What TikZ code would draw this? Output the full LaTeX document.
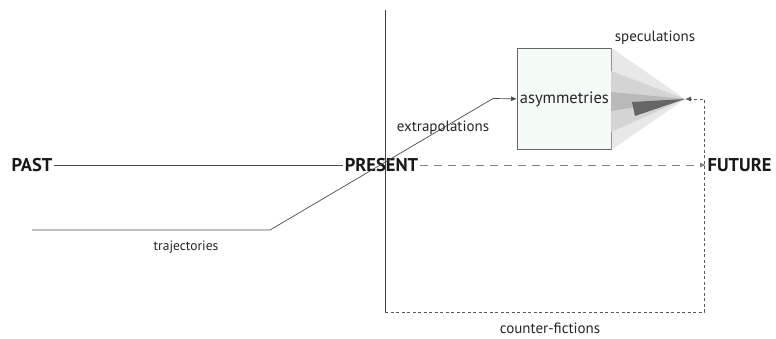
\documentclass[tikz,border=0pt]{standalone}
\usepackage{fontspec}
\setmainfont{PT Sans}
\usetikzlibrary{arrows.meta}
\begin{document}
\begin{tikzpicture}[x=1pt,y=-1pt,
  lbl/.style={font=\fontsize{15}{17}\selectfont, text=black!85, inner sep=0pt},
  era/.style={font=\bfseries\fontsize{18.5}{20}\selectfont, text=black!90, inner sep=1.5pt},
  ln/.style={draw=black!70, line width=0.7pt},
  axis/.style={draw=black!75, line width=0.8pt},
  tip/.style={-{Latex[length=6pt,width=5pt]}},
  longdash/.style={draw=black!50, line width=0.8pt, dash pattern=on 8pt off 6pt},
  shortdash/.style={draw=black!65, line width=0.8pt, dash pattern=on 3pt off 2.5pt},
  statebox/.style={draw=black!60, line width=0.7pt, fill={rgb,255:red,244;green,251;blue,247},
    minimum width=94, minimum height=101, inner sep=0pt}]
\useasboundingbox (0,0) rectangle (776,338);

% time axis labels
\node[era, anchor=west] (past) at (10,165) {PAST};
\node[era] (present) at (381.5,165) {PRESENT};
\node[era, anchor=west] (future) at (706,165) {FUTURE};

% present divider
\coordinate (divtop) at (385,10);
\coordinate (divbot) at (385,312);
\draw[axis] (divtop) -- (divbot);

% past to present, present to future
\draw[ln] (past.east) -- (present.west);
\draw[longdash, tip] (present.east) -- (future.west);

% asymmetries box
\node[statebox, anchor=north west] (box) at (517,48) {};
\node[lbl, font=\fontsize{16.5}{18}\selectfont] (asym) at (box.center) {asymmetries};

% speculation fan
\coordinate (apex) at (685,99);
\fill[black!9] (box.north east) -- (apex) -- (box.south east) -- cycle;
\fill[black!17] (611,71) -- (apex) -- (611,132) -- cycle;
\fill[black!30!green!2!black!28] (611,92) -- (apex) -- (611,111) -- cycle;
\fill[black!60] (632,102) -- (apex) -- (635,116) -- cycle;

% trajectory through the present
\coordinate (trajstart) at (32,230);
\coordinate (trajbend) at (270,230);
\coordinate (trajtop) at (493,98.5);
\draw[ln, tip] (trajstart) -- (trajbend) -- (trajtop) -- (box.west);

% counter-fictions loop back to the fan
\coordinate (cfcorner) at (704,312);
\coordinate (cfturn) at (704,99);
\draw[shortdash, tip] (divbot) -- (cfcorner) -- (cfturn) -- (apex);

% labels
\node[lbl, font=\fontsize{13.5}{15}\selectfont] (traj) at (186,247) {trajectories};
\node[lbl] (extra) at (443,128) {extrapolations};
\node[lbl] (spec) at (655,38) {speculations};
\node[lbl] (cf) at (550,328) {counter-fictions};
\end{tikzpicture}
\end{document}
